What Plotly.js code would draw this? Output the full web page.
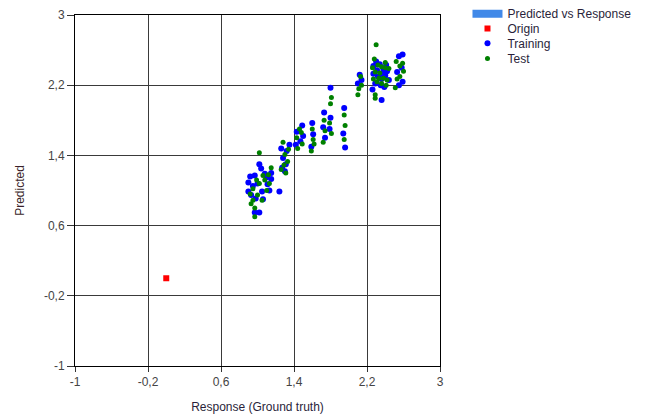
<!DOCTYPE html>
<html>
<head>
<meta charset="utf-8">
<script src="https://cdn.plot.ly/plotly-3.0.1.min.js"></script>
<style>html,body{margin:0;padding:0;background:#fff;}#chart{width:648px;height:417px;}</style>
</head>
<body>
<div id="chart"></div>
<script>
// Tick values
const tickVals = [-1, -0.2, 0.6, 1.4, 2.2, 3];

// Origin
const originX = [0];
const originY = [0];

// Training (blue)
const trainX = [1.02,1.04,0.92,0.90,0.90,0.97,1.08,1.15,1.15,1.11,1.05,0.98,0.97,1.02,1.24,0.95,1.00,1.10,0.93,1.06,1.13,
  1.28,1.31,1.27,1.30,1.32,1.35,1.26,
  1.43,1.49,1.47,1.42,1.50,
  1.60,1.61,1.59,
  1.73,1.72,1.74,
  1.80,1.80,1.79,
  1.95,1.94,1.96,
  2.10,2.14,2.12,
  2.27,2.30,2.34,2.38,2.42,2.27,2.32,2.36,2.40,2.44,2.29,2.35,2.39,2.36,2.26,2.41,2.31,2.37,
  2.59,2.55,2.59,2.55,2.53,2.58];
const trainY = [1.30,1.25,1.16,1.09,0.99,1.17,1.19,1.20,1.13,1.07,0.99,0.91,0.75,0.75,0.99,1.05,1.08,1.15,0.95,0.90,1.00,
  1.37,1.30,1.26,1.22,1.45,1.52,1.48,
  1.67,1.74,1.56,1.52,1.62,
  1.77,1.64,1.50,
  1.89,1.72,1.60,
  1.83,2.17,1.70,
  1.94,1.65,1.49,
  2.22,2.26,2.32,
  2.42,2.47,2.44,2.38,2.36,2.33,2.30,2.27,2.31,2.26,2.22,2.20,2.18,2.03,2.15,2.43,2.37,2.33,
  2.55,2.53,2.24,2.20,2.35,2.40];

// Test (green)
const testX = [1.02,1.15,1.06,1.02,0.95,0.92,0.95,1.05,1.10,1.13,0.97,0.93,0.99,1.08,1.00,0.97,1.12,
  1.30,1.33,1.26,1.29,1.34,1.31,1.28,
  1.43,1.48,1.44,1.49,1.46,
  1.60,1.61,1.59,1.62,
  1.73,1.74,1.72,
  1.81,1.80,1.79,1.81,
  1.95,1.96,1.95,
  2.10,2.13,2.11,2.14,
  2.30,2.28,2.32,2.36,2.40,2.44,2.29,2.34,2.38,2.42,2.27,2.31,2.36,2.41,2.29,2.29,2.40,2.26,2.33,
  2.59,2.52,2.56,2.51,2.56,2.60,2.53];
const testY = [1.43,1.26,1.17,1.08,1.02,0.96,0.89,0.89,1.00,1.08,0.70,0.85,1.12,1.12,0.95,0.80,1.18,
  1.41,1.33,1.24,1.29,1.47,1.20,1.55,
  1.60,1.66,1.48,1.53,1.70,
  1.70,1.58,1.45,1.53,
  1.80,1.68,1.55,
  2.06,1.99,1.77,1.65,
  1.86,1.74,1.58,
  2.09,2.30,2.16,2.20,
  2.66,2.50,2.43,2.41,2.40,2.39,2.35,2.34,2.28,2.26,2.27,2.24,2.22,2.20,2.09,2.05,2.46,2.40,2.28,
  2.45,2.47,2.42,2.17,2.30,2.36,2.27];

const traces = [
  {type:'scatter', mode:'lines', name:'Predicted vs Response', x:[null], y:[null],
   line:{color:'#4189e8', width:8}, legend:'legend', hoverinfo:'skip'},
  {type:'scatter', mode:'markers', name:'Origin', x:originX, y:originY,
   marker:{symbol:'square', color:'#ff0000', size:6}, legend:'legend2'},
  {type:'scatter', mode:'markers', name:'Training', x:trainX, y:trainY,
   marker:{symbol:'circle', color:'#0000ff', size:6}, legend:'legend3'},
  {type:'scatter', mode:'markers', name:'Test', x:testX, y:testY,
   marker:{symbol:'circle', color:'#008000', size:5}, legend:'legend4'}
];

const legFont = {family:'Liberation Sans, Arial, sans-serif', size:12, color:'#2a1f3a'};
function leg(y){ return {x:1.0753, y:y, xanchor:'left', yanchor:'top', bgcolor:'rgba(0,0,0,0)', font:legFont, itemsizing:'trace'}; }

const axisCommon = {
  range:[-1,3], tickmode:'array', tickvals:tickVals, ticktext:tickVals.map(v=>String(v).replace('.',',')),
  showgrid:true, gridcolor:'#3a3a3a', gridwidth:1, zeroline:false,
  showline:true, linecolor:'#000', linewidth:1, mirror:true,
  ticks:'outside', tickcolor:'#333', tickfont:{family:'Liberation Sans, Arial, sans-serif', size:12, color:'#444'},
  fixedrange:true
};

const layout = {
  width:648, height:417,
  margin:{l:75, r:208, t:15, b:51, autoexpand:false},
  paper_bgcolor:'#fff', plot_bgcolor:'#fff',
  showlegend:true,
  legend:leg(1.045), legend2:leg(1.0028), legend3:leg(0.961), legend4:leg(0.9174),
  xaxis:Object.assign({}, axisCommon, {ticklen:5,
    title:{text:'Response (Ground truth)', font:{family:'Liberation Sans, Arial, sans-serif', size:12, color:'#2a1f3a'}, standoff:14}}),
  yaxis:Object.assign({}, axisCommon, {ticklen:7,
    title:{text:'Predicted', font:{family:'Liberation Sans, Arial, sans-serif', size:12, color:'#3a1f2a'}, standoff:16}})
};

Plotly.newPlot('chart', traces, layout, {displayModeBar:false, staticPlot:true});
</script>
</body>
</html>
